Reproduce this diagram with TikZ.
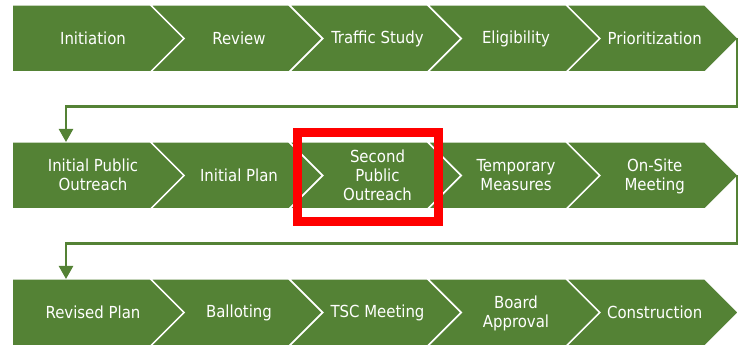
\documentclass[tikz,border=0pt]{standalone}
\usepackage{fontspec}
\setmainfont{DejaVu Sans Condensed}
\usetikzlibrary{arrows.meta}
\definecolor{sgreen}{HTML}{548235}
\newcommand{\sx}{\rule[-2pt]{0pt}{16pt}}
\begin{document}
\begin{tikzpicture}[x=1pt,y=-1pt,
  shp/.style={fill=sgreen,draw=white,line width=1.5pt,line join=miter},
  lbl/.style={text=white,font=\fontsize{16.6}{19}\selectfont,align=center,inner sep=0pt},
  conn/.style={draw=sgreen,line width=2.5pt,-{Triangle[length=13pt,width=14pt]}},
  hilite/.style={draw=red,line width=8.5pt,inner sep=0pt,minimum width=141pt,minimum height=89pt}]
\useasboundingbox (0,0) rectangle (742,347);
\def\w{138.6}\def\d{33.5}
\foreach \T in {5,142,279}{
  \pgfmathsetmacro\B{\T+67}
  \pgfmathsetmacro\M{\T+33.5}
  \foreach \k in {0,...,4}{
    \pgfmathsetmacro\xa{12+\k*\w}
    \pgfmathsetmacro\xb{\xa+\w}
    \ifnum\k=0
      \path[shp] (\xa,\T) -- (\xb,\T) -- (\xb+\d,\M) -- (\xb,\B) -- (\xa,\B) -- cycle;
    \else
      \path[shp] (\xa,\T) -- (\xb,\T) -- (\xb+\d,\M) -- (\xb,\B) -- (\xa,\B) -- (\xa+\d,\M) -- cycle;
    \fi
  }
}
% row 1
\node[lbl] (a1) at (93,38.5) {\sx Initiation};
\node[lbl] (a2) at (239,38.5) {\sx Review};
\node[lbl] (a3) at (377.5,38.5) {\sx Traffic Study};
\node[lbl] (a4) at (516,38.5) {\sx Eligibility};
\node[lbl] (a5) at (654.7,38.5) {\sx Prioritization};
% row 2
\node[lbl] (b1) at (93,175.5) {\sx Initial Public\\\sx Outreach};
\node[lbl] (b2) at (239,175.5) {\sx Initial Plan};
\node[lbl] (b3) at (377.5,175.5) {\sx Second\\\sx Public\\\sx Outreach};
\node[lbl] (b4) at (516,175.5) {\sx Temporary\\\sx Measures};
\node[lbl] (b5) at (654.7,175.5) {\sx On-Site\\\sx Meeting};
% row 3
\node[lbl] (c1) at (93,312.5) {\sx Revised Plan};
\node[lbl] (c2) at (239,312.5) {\sx Balloting};
\node[lbl] (c3) at (377.5,312.5) {\sx TSC Meeting};
\node[lbl] (c4) at (516,312.5) {\sx Board\\\sx Approval};
\node[lbl] (c5) at (654.7,312.5) {\sx Construction};
% connectors
\coordinate (r1end) at (737,38.5);
\coordinate (k1) at (737,106.5);
\coordinate (r2in) at (66,142);
\coordinate (r2end) at (737,175.5);
\coordinate (k2) at (737,243.5);
\coordinate (r3in) at (66,279);
\draw[conn] (r1end) -- (k1) -| (r2in);
\draw[conn] (r2end) -- (k2) -| (r3in);
% highlight
\node[hilite] (hl) at (368,177) {};
\end{tikzpicture}
\end{document}
